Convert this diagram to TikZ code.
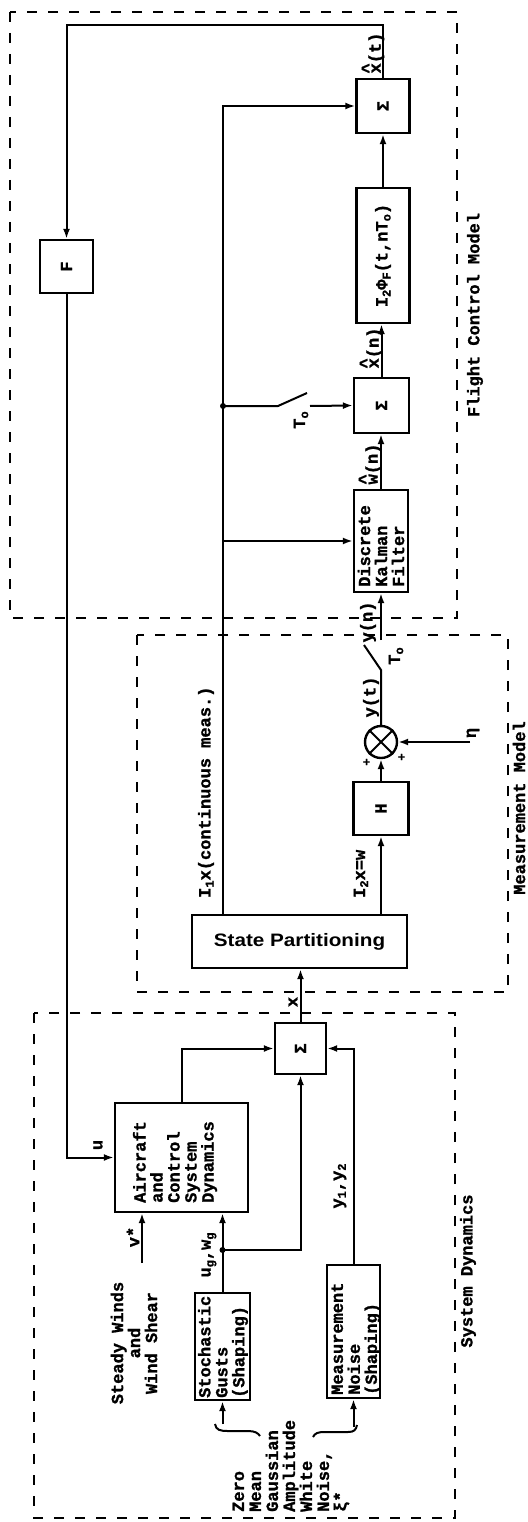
\documentclass[tikz,border=0pt]{standalone}
\usepackage{fontspec}
\usepackage{graphicx}
\usetikzlibrary{arrows.meta}
\newfontfamily\twfont{Liberation Mono}[BoldFeatures={FakeBold=1.2}]
\newfontfamily\sbfont{Liberation Sans}
\newcommand\tws{\twfont\bfseries\fontsize{17}{17}\selectfont}
\newcommand\lo[1]{\raisebox{-0.35ex}{\fontsize{12}{12}\selectfont #1}}
\newcommand\hx[1]{\makebox[0pt][l]{\raisebox{0.42em}{\textasciicircum}}#1}
\begin{document}
\begin{tikzpicture}[x=1pt,y=-1pt,
  blk/.style={draw, line width=2.4pt, inner sep=0pt, font=\tws},
  ln/.style={line width=2pt},
  conn/.style={line width=2pt, -{Latex[length=10pt,width=7pt]}},
  frame/.style={line width=2pt, dash pattern=on 10pt off 11pt},
  lbl/.style={font=\tws, inner sep=0pt},
  rlbl/.style={lbl, rotate=90},
  jdot/.style={circle, fill, inner sep=0pt, minimum size=6pt}]
\useasboundingbox (0,0) rectangle (527,1522);

% dashed frames
\draw[frame] (10,12) rectangle (457,618);
\draw[frame] (137,635) rectangle (508,992);
\draw[frame] (34,1013) rectangle (455,1518);

% ---- System dynamics blocks
\node[blk, minimum width=133pt, minimum height=109pt] (ac) at (181.5,1157.5) {};
\node[blk, minimum width=51pt, minimum height=51pt] (sum1) at (300.5,1048.5) {\rotatebox{90}{Σ}};
\node[blk, minimum width=55pt, minimum height=107pt] (gust) at (222.5,1346.5) {};
\node[blk, minimum width=53pt, minimum height=133pt] (noise) at (353.5,1331.5) {};

% ---- Measurement model blocks
\node[blk, minimum width=215pt, minimum height=53pt] (sp) at (299.5,941.5)
  {\sbfont\bfseries\fontsize{18}{18}\selectfont\scalebox{1.15}[1]{State Partitioning}};
\node[blk, minimum width=55pt, minimum height=53pt] (h) at (381,808.5) {\rotatebox{90}{H}};
\node[draw, circle, line width=2.4pt, minimum size=32pt, inner sep=0pt] (mult) at (381,742) {};
\draw[line width=2pt] (mult.north west) -- (mult.south east) (mult.north east) -- (mult.south west);

% ---- Flight control blocks
\node[blk, minimum width=54pt, minimum height=102pt] (kal) at (381,541) {};
\node[blk, minimum width=55pt, minimum height=55pt] (integ) at (381.5,405.5) {\rotatebox{90}{Σ}};
\node[blk, minimum width=53pt, minimum height=135pt] (phi) at (383,255.5)
  {\rotatebox{90}{I\lo{2}Φ\lo{F}(t,nT\lo{o})}};
\node[blk, minimum width=53pt, minimum height=54pt] (sum2) at (383,106) {\rotatebox{90}{Σ}};
\node[blk, minimum width=53pt, minimum height=53pt] (F) at (66.5,266.5) {\rotatebox{90}{F}};

% ---- connectors: system dynamics
\coordinate (j1) at (222.5,1250);
\coordinate (vs) at (142,1263);
\coordinate (gi) at (222.5,1424);
\coordinate (ni) at (353.5,1427);
\draw[conn] (ac.north) |- (sum1.west);
\draw[conn] (gust.north) -- (gust.north |- ac.south);
\draw[conn] (j1) -| (sum1.south);
\node[jdot] (d1) at (j1) {};
\draw[conn] (noise.north) |- (sum1.east);
\draw[conn] (vs) -- (vs |- ac.south);
\draw[conn] (gi) -- (gust.south);
\draw[conn] (ni) -- (noise.south);
\draw[conn] (sum1.north) -- (sum1.north |- sp.south);

% ---- connectors: measurement / flight control
\coordinate (j2) at (223,406);
\coordinate (eta) at (470,742);
\coordinate (swa) at (381,670);
\coordinate (swb) at (364,645);
\coordinate (swc) at (381,640);
\coordinate (tp) at (66.5,25);
\coordinate (s1) at (278,406);
\coordinate (s2) at (307,393);
\coordinate (s3) at (310,406);
\draw[conn] (sp.north -| j2) |- (sum2.west);
\draw[conn] (kal.west -| j2) -- (kal.west);
\draw[conn] (sp.north -| h) -- (h.south);
\draw[conn] (h.north) -- (mult.south);
\draw[conn] (eta) -- (mult.east);
\draw[ln] (mult.north) -- (swa) -- (swb);
\draw[conn] (swc) -- (kal.south);
\draw[conn] (kal.north) -- (kal.north |- integ.south);
\draw[conn] (integ.north) -- (integ.north |- phi.south);
\draw[conn] (phi.north) -- (phi.north |- sum2.south);
\draw[conn] (sum2.north) |- (tp) -- (F.north);
\draw[conn] (F.south) |- (ac.west);
\draw[ln] (j2) -- (s1) -- (s2);
\draw[conn] (s3) -- (integ.west);
\node[jdot] (d2) at (j2) {};

% brace
\draw[line width=2pt] (215,1424) .. controls (216,1430) and (220,1431) .. (228,1431) -- (248,1431) .. controls (255,1431) and (258,1433) .. (260,1436);
\draw[line width=2pt] (313,1437) .. controls (315,1433) and (318,1432) .. (325,1432) -- (348,1432) .. controls (354,1432) and (356,1430) .. (357,1425);

% ---- texts
\node[rlbl, align=left, anchor=west] (actxt) at (175,1203) {Aircraft\\and\\Control\\System\\Dynamics};
\node[rlbl, align=center] (steady) at (134,1343) {Steady Winds\\and\\Wind Shear};
\node[rlbl, align=left, anchor=west] (gusttxt) at (223,1398) {Stochastic\\Gusts\\(Shaping)};
\node[rlbl, align=left, anchor=west] (noisetxt) at (356,1395) {Measurement\\Noise\\(Shaping)};
\node[rlbl, align=left, anchor=west] (zero) at (291,1512) {Zero\\Mean\\Gaussian\\Amplitude\\White\\Noise,\\ξ*};
\node[rlbl] (sdlab) at (468,1271) {System Dynamics};
\node[rlbl] (ulab) at (98,1145) {u};
\node[rlbl] (vlab) at (133,1237) {v*};
\node[rlbl] (uglab) at (209,1255) {u\lo{g},w\lo{g}};
\node[rlbl] (ylab) at (340,1186) {y\lo{1},y\lo{2}};
\node[rlbl] (xlab) at (293,1002) {x};
\node[rlbl, anchor=west] (i1lab) at (206,898) {I\lo{1}x(continuous meas.)};
\node[rlbl, anchor=west] (i2lab) at (361,898) {I\lo{2}x=w};
\node[rlbl, font=\twfont\bfseries\fontsize{12}{12}\selectfont] (p1) at (367,762) {+};
\node[rlbl, font=\twfont\bfseries\fontsize{12}{12}\selectfont] (p2) at (402,757) {+};
\node[rlbl] (etalab) at (473,733) {η};
\node[rlbl] (ytlab) at (371,697) {y(t)};
\node[rlbl] (to1) at (396,656) {T\lo{o}};
\node[rlbl] (ynlab) at (368,622) {y(n)};
\node[rlbl] (mmlab) at (519,808) {Measurement Model};
\node[rlbl, align=left, anchor=west] (kaltxt) at (381,587) {Discrete\\Kalman\\Filter};
\node[rlbl] (wnlab) at (370,464) {\hx{w}(n)};
\node[rlbl] (to2) at (301,420) {T\lo{o}};
\node[rlbl] (xnlab) at (371,348) {\hx{x}(n)};
\node[rlbl] (xtlab) at (373,53) {\hx{x}(t)};
\node[rlbl] (fcmlab) at (475,315) {Flight Control Model};
\end{tikzpicture}
\end{document}
